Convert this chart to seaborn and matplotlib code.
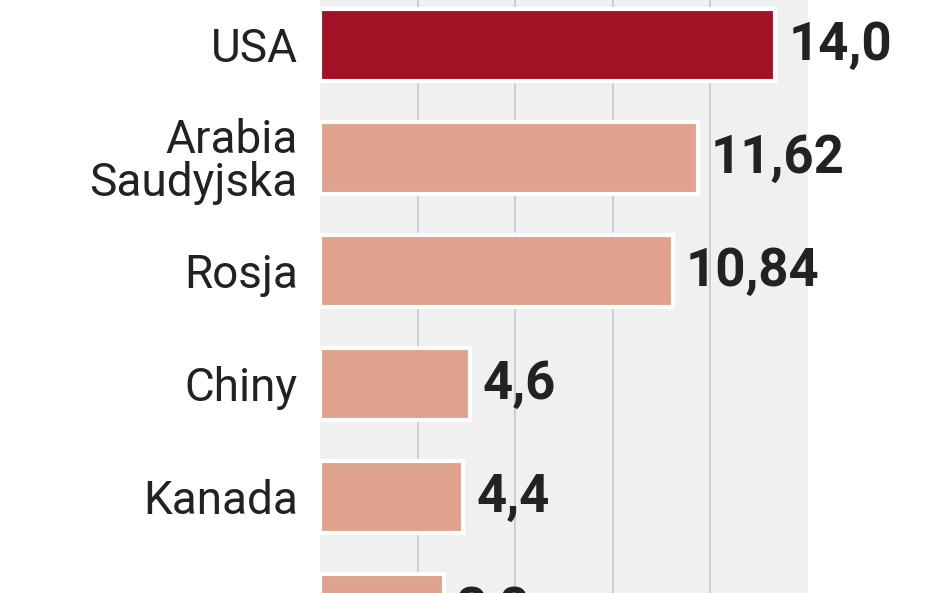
import matplotlib
matplotlib.use("Agg")
import matplotlib.pyplot as plt
import seaborn as sns
import pandas as pd

countries = ["USA", "Arabia\nSaudyjska", "Rosja", "Chiny", "Kanada", "Iran"]
values = [14.0, 11.62, 10.84, 4.6, 4.4, 3.8]
labels = ["14,0", "11,62", "10,84", "4,6", "4,4", "3,8"]
colors = ["#a31127", "#dea28d", "#dea28d", "#dea28d", "#dea28d", "#dea28d"]

sns.set_theme(style="white")
plt.rcParams["font.family"] = ["Roboto", "DejaVu Sans"]

df = pd.DataFrame({"country": countries, "value": values})
fig = plt.figure(figsize=(9.48, 5.93), dpi=100)
ax = fig.add_axes([320/948, 0, (808-320)/948, 1])
ax.set_facecolor("#f0f0f0")
sns.barplot(data=df, y="country", x="value", hue="country", palette=colors,
            legend=False, ax=ax, width=0.64, edgecolor="white", linewidth=3,
            orient="h", saturation=1)
ax.set_xlim(0, 15.0)
ax.set_ylim(4.85, -0.398)
for g in [3, 6, 9, 12]:
    ax.axvline(g, color="#c8c8c8", lw=1.2, zorder=0)
for s in ax.spines.values():
    s.set_visible(False)
ax.set_xticks([])
ax.set_xlabel("")
ax.set_ylabel("")
ax.tick_params(axis="y", length=0, pad=16, labelsize=33, labelcolor="#222222")
for lab in ax.get_yticklabels():
    lab.set_horizontalalignment("right")
    lab.set_linespacing(0.95)
for i, (v, t) in enumerate(zip(values, labels)):
    ax.text(v + 0.4, i, t, va="center", ha="left", fontsize=38,
            fontweight="bold", color="#222222", clip_on=False)
fig.savefig("out.png", dpi=100)
